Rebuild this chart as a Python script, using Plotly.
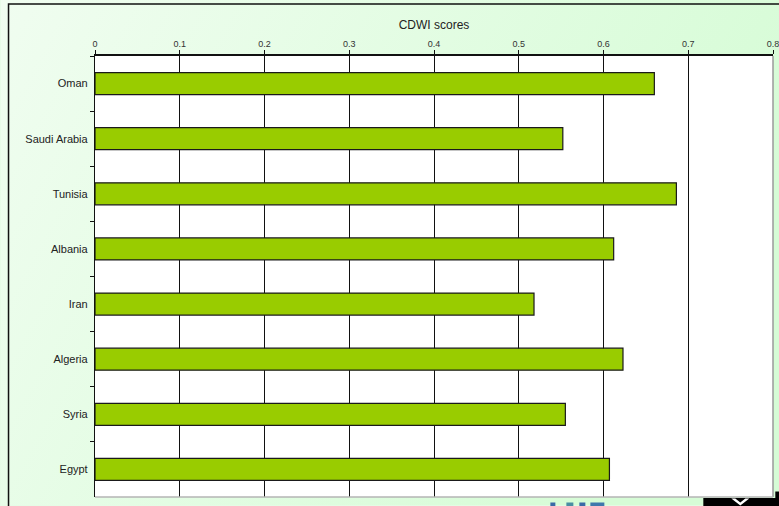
import base64
import plotly.graph_objects as go

# CDWI scores by country
countries = ["Oman", "Saudi Arabia", "Tunisia", "Albania", "Iran", "Algeria", "Syria", "Egypt"]
scores = [0.660, 0.552, 0.686, 0.612, 0.518, 0.623, 0.555, 0.607]
x_ticks = [0, 0.1, 0.2, 0.3, 0.4, 0.5, 0.6, 0.7, 0.8]
x_tick_text = ["0", "0.1", "0.2", "0.3", "0.4", "0.5", "0.6", "0.7", "0.8"]

W, H = 779, 506
ML, MR, MT, MB = 94.5, 6.3, 56, 8.5
PW, PH = W - ML - MR, H - MT - MB


def px_x(px):
    return (px - ML) / PW


def px_y(py):
    return 1 - (py - MT) / PH


# soft green diagonal gradient for the chart background
svg = f"""<svg xmlns='http://www.w3.org/2000/svg' width='{W}' height='{H}'>
<defs><linearGradient id='g' x1='0' y1='0' x2='1' y2='0.35'>
<stop offset='0' stop-color='#f0fdf0'/><stop offset='1' stop-color='#d6fcd6'/>
</linearGradient></defs>
<rect width='{W}' height='{H}' fill='url(#g)'/></svg>"""
bg_uri = "data:image/svg+xml;base64," + base64.b64encode(svg.encode()).decode()

fig = go.Figure()
fig.add_trace(go.Bar(
    y=countries,
    x=scores,
    orientation="h",
    width=0.4,
    marker=dict(color="#99CC00", line=dict(color="#1a1a1a", width=1.2)),
    hoverinfo="x+y",
))

shapes = [
    # white plot area
    dict(type="rect", xref="paper", yref="paper", x0=0, x1=1, y0=0, y1=1,
         fillcolor="white", line=dict(width=0), layer="below"),
    # grey right/bottom plot border
    dict(type="line", xref="paper", yref="paper", x0=1, x1=1, y0=0, y1=1,
         line=dict(color="#9a9a9a", width=1.5), layer="above"),
    dict(type="line", xref="paper", yref="paper", x0=0, x1=1, y0=0, y1=0,
         line=dict(color="#b4b4b4", width=1.5), layer="above"),
    # outer chart frame
    dict(type="rect", xref="paper", yref="paper",
         x0=px_x(8), x1=px_x(790), y0=px_y(520), y1=px_y(4),
         fillcolor="rgba(0,0,0,0)", line=dict(color="#111111", width=1.5), layer="above"),
    # dark block bottom right
    dict(type="rect", xref="paper", yref="paper",
         x0=px_x(703), x1=px_x(781), y0=px_y(508), y1=px_y(498.5),
         fillcolor="#000000", line=dict(width=0), layer="above"),
    dict(type="rect", xref="paper", yref="paper",
         x0=px_x(775), x1=px_x(781), y0=px_y(508), y1=px_y(492),
         fillcolor="#000000", line=dict(width=0), layer="above"),
    dict(type="path", xref="paper", yref="paper",
         path=(f"M {px_x(731)} {px_y(499)} L {px_x(740)} {px_y(506)} "
               f"L {px_x(749)} {px_y(499)} L {px_x(745)} {px_y(499)} "
               f"L {px_x(740)} {px_y(503)} L {px_x(735)} {px_y(499)} Z"),
         fillcolor="white", line=dict(width=0), layer="above"),
]
# small blue lettering fragments under the chart
for x0, x1, col in [(550, 555, "#3a6aa6"), (566, 573, "#4a8ea2"),
                    (579, 585, "#3a6aa6"), (590, 604, "#3f78ac")]:
    shapes.append(dict(type="rect", xref="paper", yref="paper",
                       x0=px_x(x0), x1=px_x(x1), y0=px_y(508), y1=px_y(503),
                       fillcolor=col, line=dict(width=0), layer="above"))

fig.update_layout(
    width=W, height=H,
    margin=dict(l=ML, r=MR, t=MT, b=MB, autoexpand=False),
    paper_bgcolor="#e6fce6",
    plot_bgcolor="white",
    showlegend=False,
    bargap=0.6,
    font=dict(family="Liberation Sans, Arial, sans-serif", color="#333333"),
    images=[dict(source=bg_uri, xref="paper", yref="paper",
                 x=px_x(0), y=px_y(0), sizex=W / PW, sizey=H / PH,
                 sizing="stretch", xanchor="left", yanchor="top", layer="below")],
    shapes=shapes,
    xaxis=dict(
        side="top", range=[0, 0.8], tickvals=x_ticks, ticktext=x_tick_text,
        tickfont=dict(size=9, color="#333333"),
        ticklabeloverflow="allow",
        ticks="outside", ticklen=4, tickcolor="#111111",
        showgrid=True, gridcolor="#111111", gridwidth=1,
        showline=True, linecolor="#111111", linewidth=1.5,
        zeroline=False,
        title=dict(text="CDWI scores", font=dict(size=12, color="#222222"), standoff=6),
    ),
    yaxis=dict(
        autorange="reversed", tickson="boundaries",
        ticks="outside", ticklen=4, tickcolor="#111111",
        tickfont=dict(size=11, color="#222222"),
        showgrid=False, showline=True, linecolor="#111111", linewidth=1.2,
        ticklabelstandoff=4,
    ),
)

fig.write_html("out.html")
